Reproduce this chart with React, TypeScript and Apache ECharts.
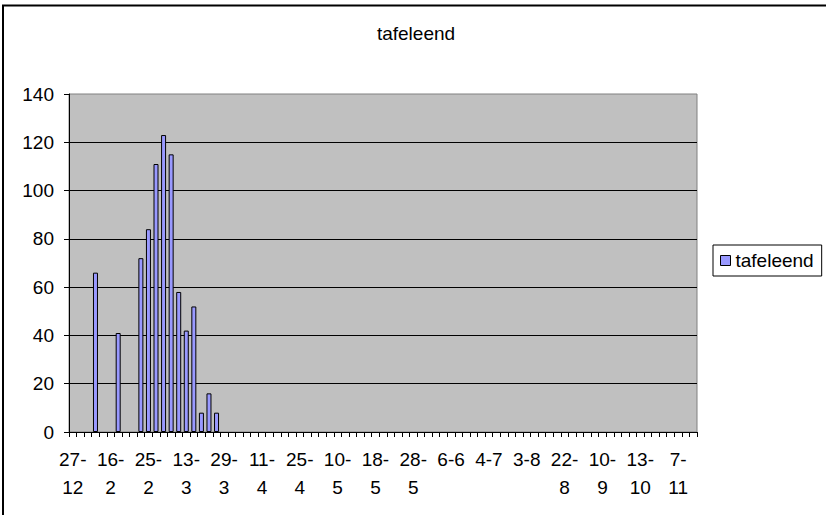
import React, { useEffect, useRef } from "react";
import * as echarts from "echarts";

const chartTitle = "tafeleend";
const seriesName = "tafeleend";

// 83 observation dates (day-month); only every 5th is labelled on the axis
const dates = [
  "27-12", "7-1", "17-1", "27-1", "6-2",
  "16-2", "18-2", "20-2", "22-2", "23-2",
  "25-2", "28-2", "3-3", "6-3", "10-3",
  "13-3", "16-3", "19-3", "23-3", "26-3",
  "29-3", "1-4", "4-4", "6-4", "9-4",
  "11-4", "14-4", "17-4", "19-4", "22-4",
  "25-4", "28-4", "1-5", "4-5", "7-5",
  "10-5", "12-5", "13-5", "15-5", "16-5",
  "18-5", "20-5", "22-5", "24-5", "26-5",
  "28-5", "30-5", "1-6", "3-6", "4-6",
  "6-6", "12-6", "17-6", "23-6", "28-6",
  "4-7", "10-7", "16-7", "22-7", "28-7",
  "3-8", "7-8", "11-8", "14-8", "18-8",
  "22-8", "26-8", "30-8", "2-9", "6-9",
  "10-9", "17-9", "23-9", "30-9", "6-10",
  "13-10", "18-10", "23-10", "28-10", "2-11",
  "7-11", "12-11", "17-11",
];

const counts: (number | null)[] = [
  null, null, null, 66, null,
  null, 41, null, null, 72,
  84, 111, 123, 115, 58,
  42, 52, 8, 16, 8,
  null, null, null, null, null,
  null, null, null, null, null,
  null, null, null, null, null,
  null, null, null, null, null,
  null, null, null, null, null,
  null, null, null, null, null,
  null, null, null, null, null,
  null, null, null, null, null,
  null, null, null, null, null,
  null, null, null, null, null,
  null, null, null, null, null,
  null, null, null, null, null,
  null, null, null,
];

const yMin = 0;
const yMax = 140;
const yStep = 20;

const FONT = "'Liberation Sans', Arial, sans-serif";
const FS = 19;

export default function App() {
  const ref = useRef<HTMLDivElement>(null);

  useEffect(() => {
    const chart = echarts.init(ref.current!, null, { renderer: "svg" });
    chart.setOption({
      animation: false,
      backgroundColor: "#fff",
      textStyle: { fontFamily: FONT },
      grid: {
        left: 69,
        right: 129,
        top: 94,
        bottom: 83,
        show: true,
        backgroundColor: "#C0C0C0",
        borderColor: "#808080",
        borderWidth: 1,
      },
      xAxis: {
        type: "category",
        data: dates,
        boundaryGap: true,
        axisLine: { lineStyle: { color: "#000", width: 1 } },
        axisTick: { show: true, interval: 0, length: 5, lineStyle: { color: "#000" } },
        axisLabel: {
          interval: 4,
          color: "#000",
          fontSize: FS,
          fontFamily: FONT,
          lineHeight: 28,
          margin: 13,
          formatter: (v: string) => (v.length >= 4 ? v.replace("-", "-\n") : v),
        },
        splitLine: { show: false },
      },
      yAxis: {
        type: "value",
        min: yMin,
        max: yMax,
        interval: yStep,
        axisLine: { show: true, lineStyle: { color: "#000", width: 1 } },
        axisTick: { show: true, length: 5, lineStyle: { color: "#000" } },
        axisLabel: { color: "#000", fontSize: FS, fontFamily: FONT, margin: 15 },
        splitLine: { show: true, showMaxLine: false, lineStyle: { color: "#000", width: 1 } },
      },
      legend: {
        data: [seriesName],
        orient: "vertical",
        left: 713,
        top: 245,
        padding: [6, 8, 6, 7],
        itemWidth: 10,
        itemHeight: 10,
        icon: "rect",
        borderColor: "#000",
        borderWidth: 1,
        backgroundColor: "#fff",
        borderRadius: 0,
        textStyle: { color: "#000", fontSize: FS, fontFamily: FONT },
        itemStyle: { borderColor: "#000", borderWidth: 1 },
      },
      series: [
        {
          type: "bar",
          name: seriesName,
          data: counts,
          barWidth: 5,
          itemStyle: { color: "#9999FF", borderColor: "#000", borderWidth: 1 },
        },
      ],
      graphic: [
        {
          type: "rect",
          shape: { x: 3, y: 5.5, width: 1000, height: 1000 },
          style: { fill: "none", stroke: "#000", lineWidth: 2 },
          silent: true,
          z: 100,
        },
        {
          type: "text",
          x: 416,
          y: 24,
          style: {
            text: chartTitle,
            fill: "#000",
            font: `${FS}px ${FONT}`,
            textAlign: "center",
            textVerticalAlign: "top",
          },
        },
      ],
    });
    return () => chart.dispose();
  }, []);

  return (
    <div
      ref={ref}
      style={{ position: "fixed", left: 0, top: 0, width: 826, height: 515, background: "#fff" }}
    />
  );
}
